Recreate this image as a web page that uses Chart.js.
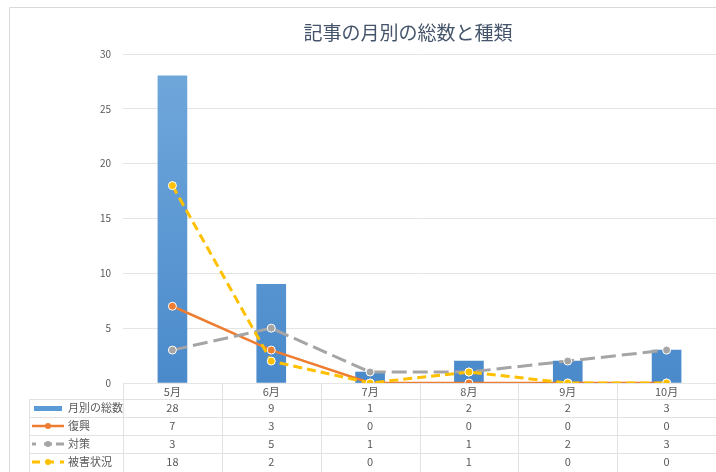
<!DOCTYPE html>
<html>
<head>
<meta charset="utf-8">
<style>
  body { margin: 0; background: #fff; }
</style>
</head>
<body>
<canvas id="myChart" width="716" height="472"></canvas>
<script src="https://cdn.jsdelivr.net/npm/chart.js"></script>
<script>
  const months = ["5月", "6月", "7月", "8月", "9月", "10月"];
  const seriesNames = ["月別の総数", "復興", "対策", "被害状況"];
  const totalByMonth = [28, 9, 1, 2, 2, 3];
  const recovery = [7, 3, 0, 0, 0, 0];
  const measures = [3, 5, 1, 1, 2, 3];
  const damage = [18, 2, 0, 1, 0, 0];
  const yTicks = [0, 5, 10, 15, 20, 25, 30];

  const FONT = "'Noto Sans CJK JP', 'Noto Sans', sans-serif";
  const TEXT = "#595959";

  function barGradient(context) {
    const { ctx, chartArea } = context.chart;
    if (!chartArea) return "#5b9bd5";
    const g = ctx.createLinearGradient(0, chartArea.top, 0, chartArea.bottom);
    g.addColorStop(0, "#72a9dc");
    g.addColorStop(1, "#4a8acb");
    return g;
  }

  // frame, title and the data table under the plot
  const tablePlugin = {
    id: "dataTable",
    beforeDraw(chart) {
      const { ctx, width, height } = chart;
      ctx.save();
      ctx.strokeStyle = "#d9d9d9";
      ctx.lineWidth = 1;
      ctx.beginPath();
      ctx.moveTo(9.5, height);
      ctx.lineTo(9.5, 7.5);
      ctx.lineTo(width, 7.5);
      ctx.stroke();
      ctx.fillStyle = "#44546a";
      ctx.font = "19px " + FONT;
      ctx.textAlign = "center";
      ctx.textBaseline = "middle";
      ctx.fillText("記事の月別の総数と種類", 408, 33);
      ctx.restore();
    },
    afterDraw(chart) {
      const { ctx, chartArea, scales, height } = chart;
      const x = scales.x;
      const step = x.getPixelForValue(1) - x.getPixelForValue(0);
      const top = chartArea.bottom;
      const headH = 16;
      const rowH = 18;
      const left = 29;
      const right = chartArea.right;
      ctx.save();
      ctx.strokeStyle = "#e2e2e2";
      ctx.lineWidth = 1;
      ctx.beginPath();
      for (let r = 0; r < 4; r++) {
        const y = Math.round(top + headH + r * rowH) + 0.5;
        ctx.moveTo(left, y);
        ctx.lineTo(right, y);
      }
      ctx.moveTo(left + 0.5, top + headH);
      ctx.lineTo(left + 0.5, height);
      for (let i = 0; i <= months.length; i++) {
        const vx = Math.round(x.getPixelForValue(i) - step / 2) + 0.5;
        ctx.moveTo(vx, top);
        ctx.lineTo(vx, height);
      }
      ctx.stroke();

      ctx.fillStyle = TEXT;
      ctx.font = "11px " + FONT;
      ctx.textAlign = "center";
      ctx.textBaseline = "middle";
      months.forEach((m, i) => {
        ctx.fillText(m, x.getPixelForValue(i), top + headH / 2 + 0.5);
      });

      chart.data.datasets.forEach((ds, r) => {
        const cy = top + headH + r * rowH + rowH / 2;
        ds.data.forEach((v, i) => {
          ctx.fillStyle = TEXT;
          ctx.textAlign = "center";
          ctx.fillText(String(v), x.getPixelForValue(i), cy);
        });
        // legend key
        if (ds.type === "bar") {
          ctx.fillStyle = "#5b9bd5";
          ctx.fillRect(34, cy - 2, 28, 5);
        } else {
          ctx.save();
          ctx.strokeStyle = ds.borderColor;
          ctx.lineWidth = ds.borderWidth;
          ctx.setLineDash(ds.keyDash);
          ctx.beginPath();
          ctx.moveTo(32, cy);
          ctx.lineTo(64, cy);
          ctx.stroke();
          ctx.setLineDash([]);
          ctx.fillStyle = ds.borderColor;
          ctx.beginPath();
          ctx.arc(48, cy, 3, 0, Math.PI * 2);
          ctx.fill();
          ctx.restore();
        }
        ctx.fillStyle = TEXT;
        ctx.textAlign = "left";
        ctx.fillText(ds.label, 68, cy);
      });
      ctx.restore();
    },
  };

  function lineSet(label, data, color, width, dash, keyDash, order) {
    return {
      type: "line",
      label: label,
      data: data,
      borderColor: color,
      backgroundColor: color,
      borderWidth: width,
      borderDash: dash,
      keyDash: keyDash,
      pointRadius: 4,
      pointHoverRadius: 4,
      pointBackgroundColor: color,
      pointBorderColor: "#ffffff",
      pointBorderWidth: 1,
      tension: 0,
      order: order,
    };
  }

  new Chart(document.getElementById("myChart"), {
    data: {
      labels: months,
      datasets: [
        {
          type: "bar",
          label: seriesNames[0],
          data: totalByMonth,
          backgroundColor: barGradient,
          borderWidth: 0,
          barThickness: 29,
          order: 10,
        },
        lineSet(seriesNames[1], recovery, "#ed7d31", 2.5, [], [], 3),
        lineSet(seriesNames[2], measures, "#a5a5a5", 3, [15, 6], [4, 8, 8, 4, 4, 0], 2),
        lineSet(seriesNames[3], damage, "#ffc000", 3, [9, 5], [8, 6], 1),
      ],
    },
    options: {
      responsive: false,
      animation: false,
      layout: { autoPadding: false, padding: { top: 54, bottom: 89, left: 1, right: 0 } },
      plugins: {
        legend: { display: false },
        title: { display: false },
        tooltip: { enabled: false },
      },
      scales: {
        x: {
          display: false,
          offset: true,
        },
        y: {
          min: yTicks[0],
          max: yTicks[yTicks.length - 1],
          afterFit: (s) => { s.width = 122; },
          afterBuildTicks: (s) => { s.ticks = yTicks.map((v) => ({ value: v })); },
          border: { display: false },
          grid: { color: "#e4e4e4", drawTicks: false },
          ticks: {
            padding: 12,
            color: TEXT,
            font: { size: 10, family: FONT },
          },
        },
      },
    },
    plugins: [tablePlugin],
  });
</script>
</body>
</html>
